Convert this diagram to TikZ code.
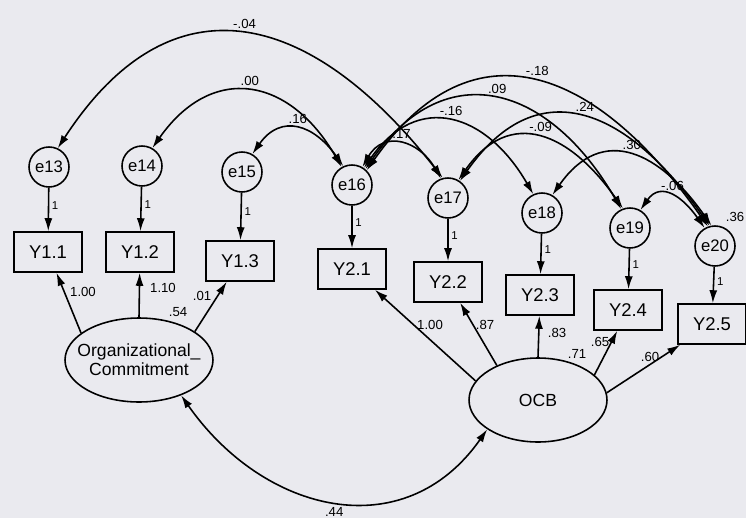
\documentclass[tikz,border=0pt]{standalone}
\usepackage{fontspec}
\setmainfont{Liberation Sans}
\usetikzlibrary{positioning,shapes.geometric,arrows.meta}
\definecolor{paper}{RGB}{234,234,239}
\tikzset{
  errcircle/.style={circle,draw,line width=0.9pt,minimum size=0.8cm,inner sep=0pt,font=\fontsize{9.5}{10}\selectfont},
  obsbox/.style={rectangle,draw,line width=0.9pt,minimum width=1.36cm,minimum height=0.8cm,inner sep=0pt,font=\fontsize{10.5}{11}\selectfont},
  latent/.style={ellipse,draw,line width=0.9pt,inner xsep=-8pt,inner ysep=0pt,minimum height=1.68cm,align=center,font=\fontsize{10}{11}\selectfont},
  headarrow/.style={-{Latex[length=2.6mm,width=1.6mm]}},
  load/.style={line width=0.9pt,headarrow},
  errpath/.style={line width=0.9pt,headarrow},
  cov/.style={line width=0.9pt,{Latex[length=2.6mm,width=1.6mm]}-{Latex[length=2.6mm,width=1.6mm]}},
  est/.style={font=\fontsize{7.5}{8}\selectfont,inner sep=1pt},
  unitlab/.style={font=\fontsize{6.5}{7}\selectfont,inner sep=1.5pt}
}

\begin{document}
\begin{tikzpicture}[x=0.02cm,y=0.02cm]
\fill[paper] (0,0) rectangle (746,518);
\useasboundingbox (0,0) rectangle (746,518);

% error terms
\node[errcircle] (e13) at (49,351) {e13};
\node[errcircle] (e14) at (142,352) {e14};
\node[errcircle] (e15) at (242,346) {e15};
\node[errcircle] (e16) at (352,333) {e16};
\node[errcircle] (e17) at (448,320) {e17};
\node[errcircle] (e18) at (542,305) {e18};
\node[errcircle] (e19) at (630,290) {e19};
\node[errcircle] (e20) at (715,272) {e20};

% indicators
\node[obsbox] (Y11) at (48,266) {Y1.1};
\node[obsbox] (Y12) at (140,266) {Y1.2};
\node[obsbox] (Y13) at (240,257) {Y1.3};
\node[obsbox] (Y21) at (352,249) {Y2.1};
\node[obsbox] (Y22) at (448,236) {Y2.2};
\node[obsbox] (Y23) at (540,223) {Y2.3};
\node[obsbox] (Y24) at (628,208) {Y2.4};
\node[obsbox] (Y25) at (712,194) {Y2.5};

% latent factors
\node[latent,minimum width=2.96cm] (Org) at (139,158) {Organizational\_\\Commitment};
\node[latent,minimum width=2.76cm] (OCB) at (538,118) {OCB};

% error -> indicator
\draw[errpath] (e13) -- node[unitlab,right,pos=0.4]{1} (Y11);
\draw[errpath] (e14) -- node[unitlab,right,pos=0.4]{1} (Y12);
\draw[errpath] (e15) -- node[unitlab,right,pos=0.4]{1} (Y13);
\draw[errpath] (e16) -- node[unitlab,right,pos=0.4]{1} (Y21);
\draw[errpath] (e17) -- node[unitlab,right,pos=0.4]{1} (Y22);
\draw[errpath] (e18) -- node[unitlab,right,pos=0.4]{1} (Y23);
\draw[errpath] (e19) -- node[unitlab,right,pos=0.4]{1} (Y24);
\draw[errpath] (e20) -- node[unitlab,right,pos=0.4]{1} (Y25);

% loadings
\draw[load] (Org.155) -- (Y11);
\draw[load] (Org.90) -- (Y12);
\draw[load] (Org.27) -- (Y13);
\draw[load] (OCB.163) -- (Y21);
\draw[load] (OCB.140) -- (Y22);
\draw[load] (OCB.90) -- (Y23);
\draw[load] (OCB.24) -- (Y24);
\draw[load] (OCB.6) -- (Y25);

\node[est] (w11) at (83,226) {1.00};
\node[est] (w12) at (163,230) {1.10};
\node[est] (w13) at (202,222) {.01};
\node[est] (r13) at (178,206) {.54};
\node[est] (w21) at (430,193) {1.00};
\node[est] (w22) at (485,193) {.87};
\node[est] (w23) at (557,185) {.83};
\node[est] (r23) at (577,164) {.71};
\node[est] (w24) at (600,176) {.65};
\node[est] (w25) at (650,161) {.60};

% error covariances
\draw[cov] (e13.65) to[out=57,in=128,looseness=1.4] node[est,above=2pt]{-.04} (e17.105);
\draw[cov] (e14.60) to[out=55,in=120,looseness=1.4] node[est,above=2pt]{.00} (e16.120);
\draw[cov] (e15.60) to[out=55,in=125,looseness=1.4] node[est,above=2pt]{.16} (e16.115);
\draw[cov] (e16.60) to[out=60,in=120,looseness=1.4] node[est,above=2pt]{.17} (e17.110);
\draw[cov] (e16.55) to[out=55,in=120,looseness=1.4] node[est,above=2pt]{-.16} (e18.115);
\draw[cov] (e16.50) to[out=55,in=120,looseness=1.4] node[est,above=2pt]{.09} (e19.115);
\draw[cov] (e16.45) to[out=55,in=125,looseness=1.4] node[est,above=2pt]{-.18} (e20.110);
\draw[cov] (e17.60) to[out=55,in=125,looseness=1.4] node[est,above=2pt]{-.09} (e19.110);
\draw[cov] (e17.55) to[out=55,in=125,looseness=1.4] node[est,above=2pt]{.24} (e20.105);
\draw[cov] (e18.60) to[out=55,in=125,looseness=1.4] node[est,above=2pt]{.30} (e20.100);
\draw[cov] (e19.60) to[out=55,in=125,looseness=1.4] node[est,above=2pt]{-.06} (e20.120);
\node[est] (v20) at (735,301) {.36};

% factor covariance
\draw[cov] (Org.-40) to[out=-55,in=-125,looseness=1.2] node[est,below=2pt]{.44} (OCB.-150);
\end{tikzpicture}
\end{document}
